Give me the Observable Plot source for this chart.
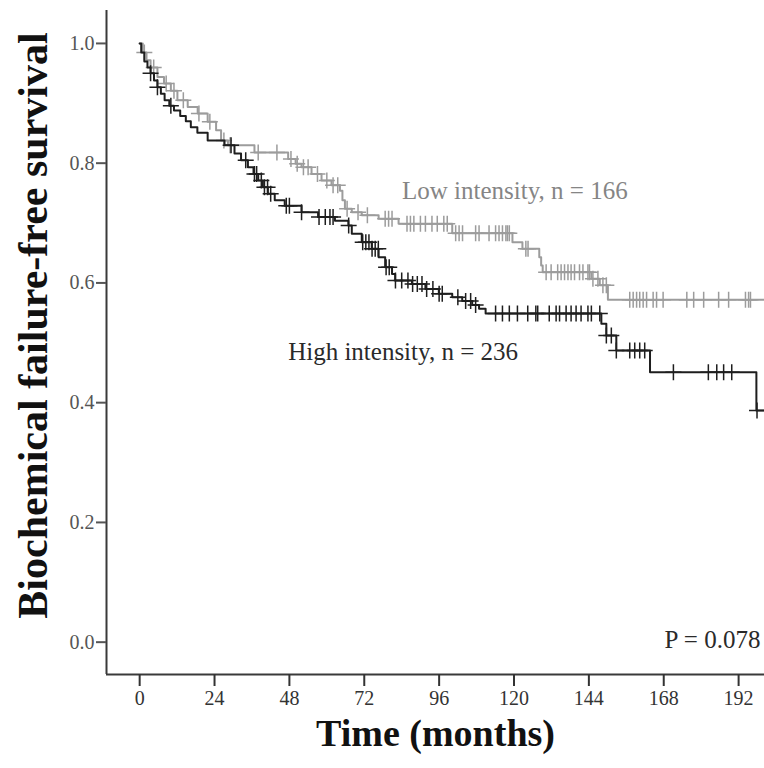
<!DOCTYPE html>
<html>
<head>
<meta charset="utf-8">
<script src="https://cdn.jsdelivr.net/npm/d3@7"></script>
<script src="https://cdn.jsdelivr.net/npm/@observablehq/plot@0.6"></script>
<style>
  html, body { margin: 0; padding: 0; background: #fff; }
  #chart svg { display: block; }
</style>
</head>
<body>
<div id="chart"></div>
<script>
// ---- Data ----
const groups = ["High intensity, n = 236", "Low intensity, n = 166"];

// High intensity (black): Kaplan–Meier step times and survival after each step
const highTimes = [0, 0.5, 1.5, 2.5, 3.5, 4.6, 5.7, 6.8, 8, 9.5, 11, 13, 14.8, 16.4, 18.5, 21.8, 27.2, 30.4, 32.5, 34.7, 36.5, 38, 39.5, 41.1, 43.3, 46.5, 51.9, 57.2, 62.6, 66.9, 68, 71.2, 74.4, 76.6, 78.7, 80.9, 81.9, 87.3, 91.6, 95.9, 100.2, 103.4, 106.6, 108.8, 110.9, 148, 149.6, 152.8, 163.6, 197.7, 200.3];
const highSurv  = [1.0, 0.985, 0.97, 0.96, 0.95, 0.938, 0.927, 0.916, 0.905, 0.896, 0.888, 0.879, 0.870, 0.860, 0.851, 0.838, 0.830, 0.816, 0.805, 0.793, 0.782, 0.771, 0.760, 0.749, 0.738, 0.729, 0.718, 0.710, 0.704, 0.696, 0.682, 0.668, 0.657, 0.643, 0.626, 0.615, 0.604, 0.598, 0.590, 0.582, 0.576, 0.570, 0.563, 0.557, 0.549, 0.532, 0.512, 0.487, 0.451, 0.387, 0.387];
const highCensored = [3.5, 5.7, 10, 29.3, 34, 36.8, 37.5, 39, 40, 41, 42, 47, 48, 51.9, 57.5, 59.5, 61, 62, 67, 71.5, 72.5, 73.5, 74.5, 75.5, 76.5, 79, 80, 82, 84, 86, 87.5, 89, 90.5, 92, 94, 96, 97, 102, 104.5, 106.1, 107.7, 114.1, 116.3, 118.5, 121.1, 124.4, 127, 127.6, 131.3, 133.5, 134.6, 136.7, 138.3, 139.9, 141.5, 143.7, 144.8, 147.5, 149.6, 151.2, 152.8, 157.1, 158.7, 160.3, 161.9, 171.1, 182.3, 185, 187.2, 189.8, 197.9];

// Low intensity (grey)
const lowTimes = [0, 1, 2.2, 3.5, 5.7, 7.8, 10, 12.1, 15.4, 18.6, 21.8, 24.5, 26.1, 28.3, 36.8, 47.6, 50, 51.9, 55.1, 58.3, 61.5, 64.2, 65, 65.8, 68, 71.2, 76.6, 83, 100.2, 119.5, 122.7, 128.1, 128.7, 129.2, 144.8, 147.5, 150.1, 200.3];
const lowSurv  = [1.0, 0.985, 0.972, 0.960, 0.944, 0.933, 0.921, 0.905, 0.894, 0.883, 0.869, 0.855, 0.838, 0.830, 0.818, 0.807, 0.799, 0.793, 0.782, 0.771, 0.763, 0.754, 0.738, 0.724, 0.718, 0.713, 0.707, 0.699, 0.683, 0.668, 0.657, 0.643, 0.629, 0.618, 0.607, 0.596, 0.572, 0.572];
const lowCensored = [1.5, 4.5, 8.5, 11, 14, 19, 22.5, 27, 29, 38, 44, 48.5, 50.5, 52.5, 54, 57, 60, 62, 63.5, 66.5, 70, 73, 78.7, 79.8, 80.9, 85.7, 86.8, 87.9, 90, 91.6, 93.7, 95.4, 97.5, 98.6, 101.3, 102.4, 103.5, 107.7, 108.8, 112, 114.1, 115.2, 116.3, 117.4, 117.9, 118.5, 123.8, 124.5, 130.3, 131.9, 134, 135.1, 136.2, 137.3, 138.3, 139.4, 141, 142.1, 143.7, 144.2, 145.3, 146.9, 148.5, 149.6, 157.1, 158.2, 159.3, 160.3, 161.4, 162.5, 164.6, 165.7, 167.8, 175.4, 177.6, 180.8, 185.6, 188.8, 194.2, 195.2, 195.8];

const xTicks = [0, 24, 48, 72, 96, 120, 144, 168, 192];
const yTicks = [0.0, 0.2, 0.4, 0.6, 0.8, 1.0];
const xTitle = "Time (months)";
const yTitle = "Biochemical failure-free survival";
const pLabel = "P = 0.078";

// ---- Build tables ----
const highSteps = highTimes.map((t, i) => ({t, s: highSurv[i]}));
const lowSteps = lowTimes.map((t, i) => ({t, s: lowSurv[i]}));
function survAt(steps, t) {
  let s = steps[0].s;
  for (const d of steps) { if (d.t <= t) s = d.s; else break; }
  return s;
}
const highCens = highCensored.map(t => ({t, s: survAt(highSteps, t)}));
const lowCens = lowCensored.map(t => ({t, s: survAt(lowSteps, t)}));

const xDomain = [-10.63, 200.3];
const yDomain = [-0.054, 1.055];

const plusSymbol = {
  draw(ctx, size) {
    const r = Math.sqrt(size / Math.PI);
    ctx.moveTo(-r, 0); ctx.lineTo(r, 0);
    ctx.moveTo(0, -r); ctx.lineTo(0, r);
  }
};

const black = "#1e1e1e";
const grey = "#9c9c9c";
const axisColor = "#3a3a3a";

const chart = Plot.plot({
  width: 764,
  height: 768,
  marginLeft: 106,
  marginRight: 0,
  marginTop: 10,
  marginBottom: 94,
  style: {fontFamily: "'Liberation Serif', 'Times New Roman', serif", background: "#fff", overflow: "visible"},
  x: {domain: xDomain},
  y: {domain: yDomain},
  marks: [
    Plot.ruleX([xDomain[0]], {stroke: axisColor, strokeWidth: 2}),
    Plot.ruleY([yDomain[0]], {stroke: axisColor, strokeWidth: 2}),
    Plot.axisX({ticks: xTicks, tickSize: 12, tickPadding: 4, fontSize: 20, color: "#333", strokeWidth: 2, label: null}),
    Plot.axisY({ticks: yTicks, tickSize: 10, tickPadding: 2, fontSize: 20, color: "#555", strokeWidth: 2, tickFormat: d3.format(".1f"), label: null}),
    Plot.line(lowSteps, {x: "t", y: "s", curve: "step-after", stroke: grey, strokeWidth: 2}),
    Plot.dot(lowCens, {x: "t", y: "s", symbol: plusSymbol, r: 8, fill: "none", stroke: grey, strokeWidth: 1.5}),
    Plot.line(highSteps, {x: "t", y: "s", curve: "step-after", stroke: black, strokeWidth: 2}),
    Plot.dot(highCens, {x: "t", y: "s", symbol: plusSymbol, r: 8, fill: "none", stroke: black, strokeWidth: 1.5}),
    Plot.text([groups[1]], {x: 84.1, y: 0.754, textAnchor: "start", fontSize: 25, fill: "#858585"}),
    Plot.text([groups[0]], {x: 47.6, y: 0.484, textAnchor: "start", fontSize: 25, fill: "#2a2a2a"}),
    Plot.text([pLabel], {x: 199, y: 0.003, textAnchor: "end", fontSize: 25, fill: "#2a2a2a"}),
    Plot.text([xTitle], {frameAnchor: "bottom", dy: 71, fontSize: 38, fontWeight: "bold", fill: "#111"}),
    Plot.text([yTitle], {frameAnchor: "left", textAnchor: "middle", rotate: -90, dx: -73, dy: -17, fontSize: 42, fontWeight: "bold", fill: "#111"})
  ]
});
document.getElementById("chart").appendChild(chart);
</script>
</body>
</html>
